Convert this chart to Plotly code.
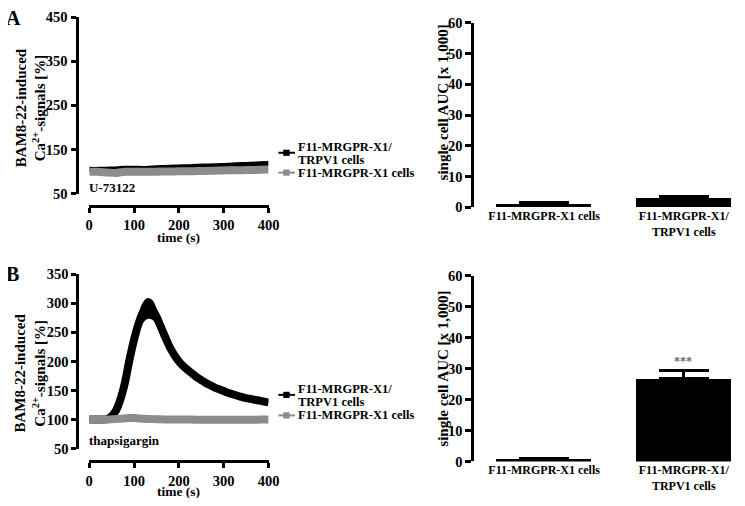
import plotly.graph_objects as go

# ---------------- data ----------------
time_a = [0, 20, 40, 60, 80, 100, 120, 140, 160, 180, 200, 220, 240, 260, 280, 300, 320, 340, 360, 380, 400]
black_a_mean = [105, 105, 105.5, 106, 107.5, 107.5, 107, 108, 109, 110, 110.5, 111, 112, 112.5, 113, 114, 115, 116, 116.5, 117.5, 118]
black_a_sem = [0.5] * 21
gray_a_mean = [99.5, 99.5, 98, 97, 99.5, 99.5, 99.5, 99.5, 100, 100, 100.5, 100.5, 101, 101.5, 102, 102.5, 103, 103, 103.5, 104, 104.5]
gray_a_sem = [0.5] * 21

time_b = [0, 10, 20, 30, 40, 50, 60, 70, 80, 90, 100, 110, 120, 130, 140, 150, 160, 170, 180, 190, 200,
          210, 220, 230, 240, 250, 260, 270, 280, 290, 300, 310, 320, 330, 340, 350, 360, 370, 380, 390, 400]
black_b_mean = [100, 100, 100, 100, 101, 106, 116, 136, 165, 204, 238, 265, 284, 291, 289, 277, 259, 241, 224, 211, 200,
                192, 185, 179, 173, 168, 163, 159, 155, 152, 149, 146, 143.5, 141, 139, 137, 135.5, 134, 132.5, 131, 129.5]
black_b_sem = [1, 1, 1, 1, 2, 5, 9, 13, 16, 17, 18, 18, 18, 18, 17, 15, 12, 10, 8, 7, 6,
               6, 5.5, 5.5, 5, 5, 4.5, 4.5, 4, 4, 4, 3.5, 3.5, 3.5, 3, 3, 3, 2.5, 2.5, 2, 2]
gray_b_mean = [100, 100, 100, 100, 100, 100.5, 101, 101.5, 102, 102.5, 102.5, 102, 101.5, 101, 101, 100.5, 100.5, 100, 100, 100, 100,
               100, 100, 100, 99.5, 99.5, 99.5, 99.5, 99.5, 99.5, 99.5, 99.5, 99.5, 99.5, 99.5, 99.5, 99.5, 99.5, 100, 100, 100]
gray_b_sem = [1] * 41

categories = ["F11-MRGPR-X1 cells", "F11-MRGPR-X1/<br>TRPV1 cells"]
auc_a = [1.1, 3.0]
auc_a_err = [0.5, 0.45]
auc_b = [0.9, 26.8]
auc_b_err = [0.0, 2.6]

line_ticks_a = [50, 150, 250, 350, 450]
line_ticks_b = [50, 100, 150, 200, 250, 300, 350]
time_ticks = [0, 100, 200, 300, 400]
auc_ticks = [0, 10, 20, 30, 40, 50, 60]

series_names = ["F11-MRGPR-X1/<br>TRPV1 cells", "F11-MRGPR-X1 cells"]

BLACK = "#000000"
GRAY = "#8c8c8c"
FONT = "Liberation Serif"

W, H = 745, 506


def fx(p):
    return p / W


def fy(p):
    return 1 - p / H


fig = go.Figure()


def add_band(t, mean, sem, color, width, xa, ya):
    upper = [m + s for m, s in zip(mean, sem)]
    lower = [m - s for m, s in zip(mean, sem)]
    fig.add_trace(go.Scatter(x=t, y=upper, mode="lines", line=dict(width=0, color=color, shape="spline"),
                             hoverinfo="skip", showlegend=False, xaxis=xa, yaxis=ya))
    fig.add_trace(go.Scatter(x=t, y=lower, mode="lines", line=dict(width=0, color=color, shape="spline"),
                             fill="tonexty", fillcolor=color, hoverinfo="skip", showlegend=False, xaxis=xa, yaxis=ya))
    fig.add_trace(go.Scatter(x=t, y=mean, mode="lines", line=dict(width=width, color=color, shape="spline"),
                             showlegend=False, xaxis=xa, yaxis=ya))


# Panel A traces
add_band(time_a, black_a_mean, black_a_sem, BLACK, 5, "x", "y")
add_band(time_a, gray_a_mean, gray_a_sem, GRAY, 8, "x", "y")
# Panel B traces
add_band(time_b, black_b_mean, black_b_sem, BLACK, 8, "x3", "y3")
add_band(time_b, gray_b_mean, gray_b_sem, GRAY, 8, "x3", "y3")

# bars
fig.add_trace(go.Bar(x=categories, y=auc_a, width=0.68, marker=dict(color=BLACK, line=dict(width=0)),
                     error_y=dict(type="data", array=auc_a_err, arrayminus=[0, 0], symmetric=False,
                                  thickness=3, width=25, color=BLACK),
                     showlegend=False, xaxis="x2", yaxis="y2"))
fig.add_trace(go.Bar(x=categories, y=auc_b, width=0.68, marker=dict(color=BLACK, line=dict(width=0)),
                     error_y=dict(type="data", array=auc_b_err, arrayminus=[0, 0], symmetric=False,
                                  thickness=3, width=25, color=BLACK),
                     showlegend=False, xaxis="x4", yaxis="y4"))

axis_common = dict(showgrid=False, zeroline=False, showline=True, linewidth=3, linecolor=BLACK,
                   ticks="outside", tickwidth=3, tickcolor=BLACK, ticklen=5,
                   tickfont=dict(family=FONT, size=14.5, color=BLACK, weight="bold"))
bar_y_common = {**axis_common, "ticklen": 6,
                "tickfont": dict(family=FONT, size=14.5, color=BLACK, weight="bold")}
cat_font = dict(family=FONT, size=12, color=BLACK, weight="bold")

fig.update_layout(
    margin=dict(l=0, r=0, t=0, b=0),
    paper_bgcolor="white", plot_bgcolor="white",
    font=dict(family=FONT, size=13, color=BLACK, weight="bold"),
    showlegend=False,
    bargap=0,
    xaxis=dict(domain=[fx(87), fx(270)], range=[0, 400], tickvals=time_ticks, anchor="free",
               position=fy(204), **axis_common),
    yaxis=dict(domain=[fy(191.7), fy(9.3)], range=[50, 450], tickvals=line_ticks_a, anchor="free",
               position=fx(74), **axis_common),
    xaxis3=dict(domain=[fx(87), fx(270)], range=[0, 400], tickvals=time_ticks, anchor="free",
                position=fy(468), **axis_common),
    yaxis3=dict(domain=[fy(455), fy(275)], range=[50, 350], tickvals=line_ticks_b, anchor="free",
                position=fx(75), **axis_common),
    xaxis2=dict(domain=[fx(480), 1], range=[-0.5, 1.36], type="category", anchor="y2",
                showline=False, showgrid=False, zeroline=False, ticks="", tickfont=cat_font),
    yaxis2=dict(domain=[fy(205.7), fy(15.3)], range=[0, 60], tickvals=auc_ticks, anchor="x2", **bar_y_common),
    xaxis4=dict(domain=[fx(480), 1], range=[-0.5, 1.36], type="category", anchor="y4",
                showline=False, showgrid=False, zeroline=False, ticks="", tickfont=cat_font),
    yaxis4=dict(domain=[fy(468.3), fy(276.7)], range=[0, 60], tickvals=auc_ticks, anchor="x4", **bar_y_common),
)

ann_font = dict(family=FONT, size=13, color=BLACK, weight="bold")
rot_font = dict(family=FONT, size=15, color=BLACK, weight="bold")
time_font = dict(family=FONT, size=13.5, color=BLACK, weight="bold")
letter_font = dict(family=FONT, size=20, color=BLACK, weight="bold")
legend_font = dict(family=FONT, size=12.5, color=BLACK, weight="bold")
annotations = [
    dict(text="A", x=fx(1), y=fy(10), xanchor="left", yanchor="middle", font=letter_font),
    dict(text="B", x=fx(1), y=fy(275), xanchor="left", yanchor="middle", font=letter_font),
    dict(text="BAM8-22-induced<br>Ca<sup>2+</sup>-signals [%]", x=fx(27), y=fy(103), textangle=-90,
         xanchor="center", yanchor="middle", font=rot_font),
    dict(text="BAM8-22-induced<br>Ca<sup>2+</sup>-signals [%]", x=fx(27), y=fy(377), textangle=-90,
         xanchor="center", yanchor="middle", font=rot_font),
    dict(text="time (s)", x=fx(178), y=fy(237), xanchor="center", yanchor="middle", font=time_font),
    dict(text="time (s)", x=fx(178), y=fy(499), xanchor="center", yanchor="middle", font=time_font),
    dict(text="U-73122", x=fx(86), y=fy(185), xanchor="left", yanchor="middle", font=ann_font),
    dict(text="thapsigargin", x=fx(86), y=fy(447), xanchor="left", yanchor="middle", font=ann_font),
    dict(text="single cell AUC [x 1,000]", x=fx(448), y=fy(97.5), textangle=-90,
         xanchor="center", yanchor="middle", font=rot_font),
    dict(text="single cell AUC [x 1,000]", x=fx(448), y=fy(372.5), textangle=-90,
         xanchor="center", yanchor="middle", font=rot_font),
    dict(text="***", x=fx(693), y=fy(365), xanchor="center", yanchor="middle",
         font=dict(family=FONT, size=12, color="#666666", weight="bold")),
]

# manual legends (text lines + symbol shapes)
shapes = []
for text_ys, sym_ys in [([143.3, 156.7, 170.0], [149.5, 170.0]), ([393.0, 407.0, 420.7], [399.5, 420.7])]:
    lines = series_names[0].split("<br>") + [series_names[1]]
    for txt, ty in zip(lines, text_ys):
        annotations.append(dict(text=txt, x=fx(299), y=fy(ty), xanchor="left", yanchor="middle", font=legend_font))
    for col, sy in zip([BLACK, GRAY], sym_ys):
        shapes.append(dict(type="line", xref="paper", yref="paper", x0=fx(280), x1=fx(297), y0=fy(sy), y1=fy(sy),
                           line=dict(color=col, width=2)))
        shapes.append(dict(type="rect", xref="paper", yref="paper", x0=fx(285), x1=fx(291.5),
                           y0=fy(sy + 3.2), y1=fy(sy - 3.2), line=dict(width=0), fillcolor=col))

for a in annotations:
    a.update(xref="paper", yref="paper", showarrow=False, borderpad=0)
fig.update_layout(annotations=annotations, shapes=shapes)

# the figure div is 745x506 and pulled over the page's default 8px body margin
fig.write_html("out.html", config={"displayModeBar": False},
               default_width=f"{W}px;margin:-8px", default_height=f"{H}px")
